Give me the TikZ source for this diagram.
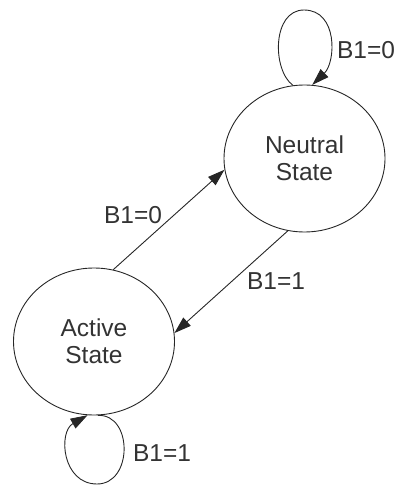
\documentclass[tikz,border=0pt]{standalone}
\usepackage{fontspec}
\setmainfont{Liberation Sans}
\usetikzlibrary{shapes.geometric,arrows.meta}
\tikzstyle{states} = [ellipse, minimum width=161pt, minimum height=147pt, inner sep=0pt,
text centered, align=center, draw=black!85, line width=0.9pt, text=black!80,
font=\fontsize{24.5}{27}\selectfont]
\tikzstyle{labels} = [text=black!80, font=\fontsize{24.5}{27}\selectfont]
\tikzstyle{arrow} = [line width=0.9pt, draw=black!85, -{Triangle[length=17pt,width=11pt]}]

\begin{document}
\begin{tikzpicture}[x=1pt,y=-1pt]
        \useasboundingbox (0,0) rectangle (398,486);
        \draw (304.5,158.5) node[states] (neutral) {Neutral\\State};
        \draw (94,341.5) node[states] (active) {Active\\State};

        % Arrows
        \draw[arrow] (active.75) -- (neutral.188);
        \draw[arrow] (neutral.257) -- (active.6);
        \draw[arrow] (neutral.99) .. controls (272,70) and (272,10) .. (304,10)
        .. controls (338,10) and (336,62) .. (neutral.84);
        \draw[arrow] (active.273) .. controls (133,414) and (133,484) .. (97,484)
        .. controls (62,484) and (58,432) .. (active.265);

        % Labels
        \draw (366,50) node[labels] (top0) {B1=0};
        \draw (133,215) node[labels] (mid0) {B1=0};
        \draw (276,281) node[labels] (mid1) {B1=1};
        \draw (162,453) node[labels] (bot1) {B1=1};
    \end{tikzpicture}
\end{document}
